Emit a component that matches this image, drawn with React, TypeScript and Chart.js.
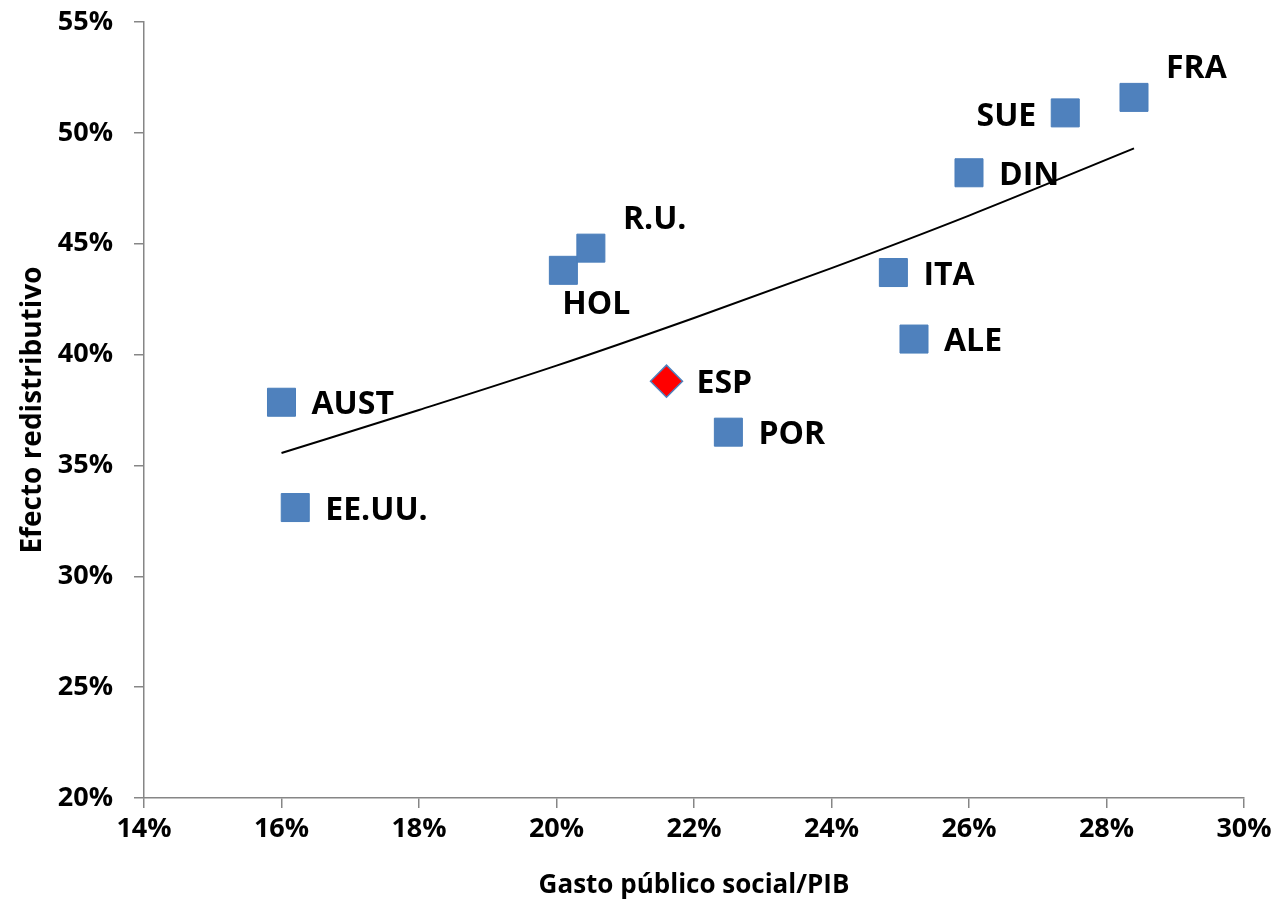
import React, { useEffect, useRef } from "react";
import { Chart, registerables } from "chart.js";

Chart.register(...registerables);

// ---- Data ----
const countries = ["AUST", "EE.UU.", "HOL", "R.U.", "POR", "ITA", "ALE", "DIN", "SUE", "FRA"];
const gastoSocial = [16.0, 16.2, 20.1, 20.5, 22.5, 24.9, 25.2, 26.0, 27.4, 28.4];
const efectoRedistributivo = [37.85, 33.1, 43.8, 44.8, 36.5, 43.7, 40.7, 48.2, 50.9, 51.6];
const labelPlacement = ["right", "right", "below", "aboveRight", "right", "right", "right", "right", "left", "aboveRight"];

const espLabel = ["ESP"];
const espGasto = [21.6];
const espEfecto = [38.8];

const trendX = [16, 18, 20, 22, 24, 26, 28.4];
const trendY = [35.56, 37.5, 39.5, 41.65, 43.9, 46.27, 49.3];

const xTicks = [14, 16, 18, 20, 22, 24, 26, 28, 30];
const yTicks = [20, 25, 30, 35, 40, 45, 50, 55];

const FONT = "'Open Sans', 'DejaVu Sans', sans-serif";
const AXIS_GRAY = "#868686";

const pointLabelPlugin = {
  id: "pointLabels",
  afterDatasetsDraw(chart: any) {
    const ctx = chart.ctx;
    ctx.save();
    ctx.font = `bold 32px ${FONT}`;
    ctx.fillStyle = "#000";
    ctx.textBaseline = "middle";
    chart.data.datasets.forEach((ds: any, di: number) => {
      if (!ds.pointLabels) return;
      const meta = chart.getDatasetMeta(di);
      meta.data.forEach((el: any, i: number) => {
        const text = ds.pointLabels[i];
        const place = ds.placements[i];
        let x = el.x;
        let y = el.y;
        if (place === "right") {
          ctx.textAlign = "left";
          x += 30;
          y += 3;
        } else if (place === "left") {
          ctx.textAlign = "right";
          x -= 29;
          y += 4;
        } else if (place === "below") {
          ctx.textAlign = "center";
          x += 33;
          y += 35;
        } else if (place === "aboveRight") {
          ctx.textAlign = "left";
          x += 32;
          y -= 28;
        }
        ctx.fillText(text, x, y);
      });
    });
    ctx.restore();
  },
};

export default function App() {
  const canvasRef = useRef<HTMLCanvasElement | null>(null);

  useEffect(() => {
    const canvas = canvasRef.current;
    if (!canvas) return;

    const chart = new Chart(canvas, {
      type: "scatter",
      data: {
        datasets: [
          {
            type: "line",
            label: "Tendencia",
            data: trendX.map((x, i) => ({ x, y: trendY[i] })),
            borderColor: "#000",
            borderWidth: 2,
            pointRadius: 0,
            fill: false,
            cubicInterpolationMode: "monotone",
            order: 2,
          } as any,
          {
            label: "Países",
            data: gastoSocial.map((x, i) => ({ x, y: efectoRedistributivo[i] })),
            pointStyle: "rect",
            pointRadius: 19.8,
            pointHoverRadius: 19.8,
            backgroundColor: "#4F81BD",
            borderColor: "#4A7EBB",
            borderWidth: 1,
            pointLabels: countries,
            placements: labelPlacement,
            order: 1,
          } as any,
          {
            label: "España",
            data: espGasto.map((x, i) => ({ x, y: espEfecto[i] })),
            pointStyle: "rectRot",
            pointRadius: 16,
            pointHoverRadius: 16,
            backgroundColor: "#FF0000",
            borderColor: "#4F81BD",
            borderWidth: 1.5,
            pointLabels: espLabel,
            placements: ["right"],
            order: 0,
          } as any,
        ],
      },
      options: {
        responsive: false,
        animation: false,
        events: [],
        layout: { padding: { left: 0, top: 22, right: 33, bottom: 0 } },
        plugins: {
          legend: { display: false },
          tooltip: { enabled: false },
        },
        scales: {
          x: {
            type: "linear",
            min: 14,
            max: 30,
            afterBuildTicks: (scale: any) => {
              scale.ticks = xTicks.map((v) => ({ value: v }));
            },
            afterFit: (scale: any) => {
              scale.height = 104;
              scale.paddingLeft = 0;
              scale.paddingRight = 0;
            },
            grid: {
              display: true,
              drawOnChartArea: false,
              drawTicks: true,
              tickLength: 10,
              color: AXIS_GRAY,
              lineWidth: 1.5,
            },
            border: { display: true, color: AXIS_GRAY, width: 1.5 },
            ticks: {
              padding: 5,
              color: "#000",
              font: { family: FONT, size: 27, weight: "bold" },
              callback: (v: any) => `${v}%`,
              maxRotation: 0,
              autoSkip: false,
            },
            title: {
              display: true,
              text: "Gasto público social/PIB",
              color: "#000",
              font: { family: FONT, size: 26, weight: "bold" },
              padding: { top: 0, bottom: 1 },
            },
          },
          y: {
            type: "linear",
            min: 20,
            max: 55,
            afterBuildTicks: (scale: any) => {
              scale.ticks = yTicks.map((v) => ({ value: v }));
            },
            afterFit: (scale: any) => {
              scale.width = 144;
              scale.paddingTop = 0;
              scale.paddingBottom = 0;
            },
            grid: {
              display: true,
              drawOnChartArea: false,
              drawTicks: true,
              tickLength: 10,
              color: AXIS_GRAY,
              lineWidth: 1.5,
            },
            border: { display: true, color: AXIS_GRAY, width: 1.5 },
            ticks: {
              padding: 21,
              color: "#000",
              font: { family: FONT, size: 27, weight: "bold" },
              callback: (v: any) => `${v}%`,
              autoSkip: false,
            },
            title: {
              display: true,
              text: "Efecto redistributivo",
              color: "#000",
              font: { family: FONT, size: 28, weight: "bold" },
              padding: { top: 16, bottom: 0 },
            },
          },
        },
      },
      plugins: [pointLabelPlugin],
    });

    return () => chart.destroy();
  }, []);

  return (
    <div style={{ position: "fixed", left: 0, top: 0, width: 1277, height: 902, background: "#fff" }}>
      <canvas ref={canvasRef} width={1277} height={902} />
    </div>
  );
}
